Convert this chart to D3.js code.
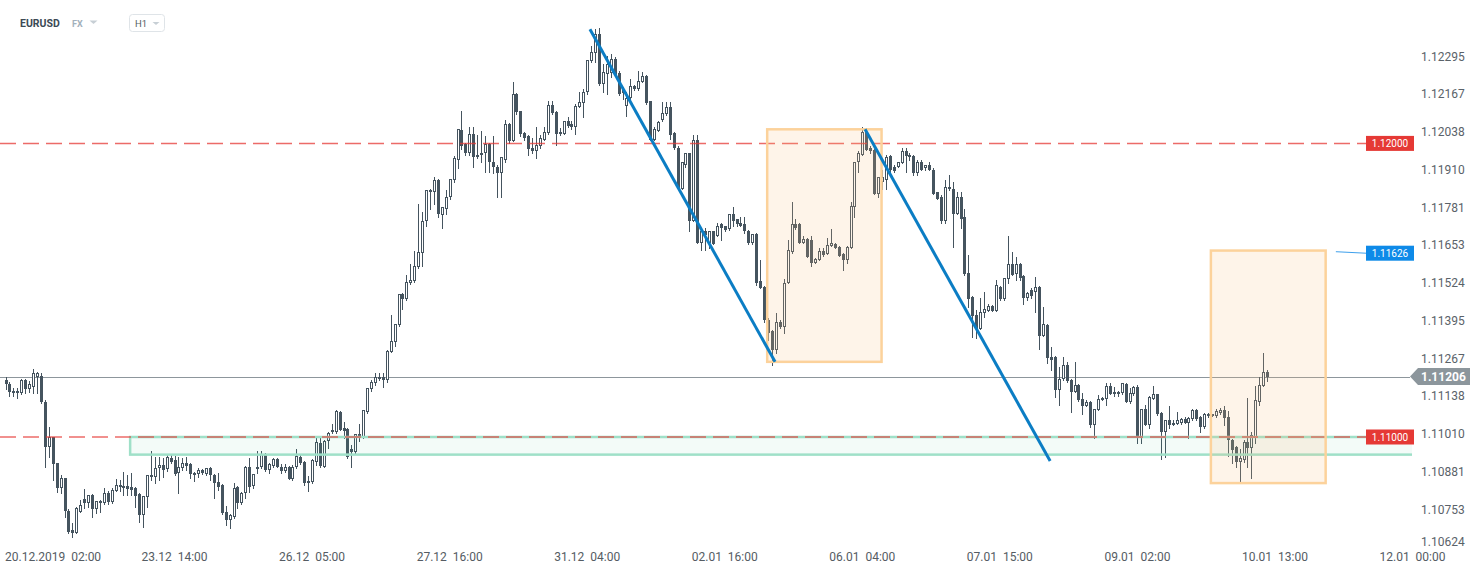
<!DOCTYPE html>
<html lang="en">
<head>
<meta charset="UTF-8">
<title>EURUSD H1</title>
<style>
  body { margin: 0; background: #fff; overflow: hidden; }
  svg { display: block; font-family: Roboto, "Noto Sans", sans-serif; }
  text { white-space: pre; }
</style>
</head>
<body>
<script src="https://d3js.org/d3.v7.min.js"></script>
<script>
const symbol = 'EURUSD';
const market = 'FX';
const interval = 'H1';

// bar index of the first visible candle (0 = 20.12.2019 02:00)
const firstBar = -8;
// [open, high, low, close]
const candles = [
  [1.11195,1.11205,1.11164,1.11181],[1.11181,1.11188,1.11140,1.11153],[1.11157,1.11168,1.11140,1.11150],[1.11150,1.11168,1.11133,1.11157],
  [1.11150,1.11198,1.11146,1.11195],[1.11195,1.11198,1.11150,1.11164],[1.11164,1.11192,1.11153,1.11181],[1.11171,1.11232,1.11150,1.11219],
  [1.11205,1.11222,1.11150,1.11219],[1.11208,1.11219,1.11116,1.11119],[1.11119,1.11126,1.10897,1.10966],[1.10966,1.11034,1.10932,1.11000],
  [1.11000,1.11000,1.10853,1.10907],[1.10911,1.10911,1.10812,1.10826],[1.10826,1.10870,1.10809,1.10860],[1.10860,1.10860,1.10727,1.10748],
  [1.10748,1.10755,1.10673,1.10676],[1.10683,1.10707,1.10659,1.10673],[1.10673,1.10761,1.10673,1.10758],[1.10744,1.10785,1.10744,1.10768],
  [1.10788,1.10822,1.10758,1.10775],[1.10775,1.10802,1.10761,1.10802],[1.10802,1.10805,1.10727,1.10754],[1.10754,1.10782,1.10741,1.10782],
  [1.10782,1.10785,1.10744,1.10775],[1.10775,1.10826,1.10771,1.10809],[1.10809,1.10816,1.10771,1.10778],[1.10778,1.10826,1.10775,1.10819],
  [1.10816,1.10856,1.10816,1.10836],[1.10836,1.10853,1.10816,1.10829],[1.10833,1.10880,1.10802,1.10826],[1.10833,1.10870,1.10802,1.10822],
  [1.10829,1.10877,1.10802,1.10819],[1.10826,1.10829,1.10761,1.10799],[1.10805,1.10809,1.10710,1.10734],[1.10734,1.10799,1.10693,1.10799],
  [1.10795,1.10870,1.10761,1.10870],[1.10870,1.10952,1.10853,1.10863],[1.10863,1.10932,1.10843,1.10894],[1.10894,1.10932,1.10853,1.10904],
  [1.10904,1.10928,1.10863,1.10887],[1.10890,1.10938,1.10884,1.10932],[1.10928,1.10942,1.10911,1.10914],[1.10921,1.10935,1.10870,1.10873],
  [1.10877,1.10932,1.10809,1.10897],[1.10894,1.10928,1.10887,1.10911],[1.10911,1.10932,1.10887,1.10900],[1.10907,1.10911,1.10860,1.10873],
  [1.10877,1.10880,1.10850,1.10870],[1.10873,1.10894,1.10863,1.10887],[1.10887,1.10890,1.10873,1.10877],[1.10873,1.10894,1.10870,1.10894],
  [1.10894,1.10897,1.10853,1.10870],[1.10870,1.10873,1.10792,1.10843],[1.10846,1.10877,1.10819,1.10829],[1.10836,1.10840,1.10737,1.10741],
  [1.10744,1.10765,1.10700,1.10717],[1.10717,1.10737,1.10690,1.10734],[1.10727,1.10843,1.10724,1.10826],[1.10829,1.10832,1.10758,1.10775],
  [1.10775,1.10812,1.10772,1.10809],[1.10809,1.10900,1.10792,1.10897],[1.10897,1.10928,1.10812,1.10829],[1.10833,1.10873,1.10826,1.10873],
  [1.10890,1.10952,1.10877,1.10897],[1.10897,1.10952,1.10894,1.10942],[1.10942,1.10945,1.10884,1.10887],[1.10887,1.10911,1.10877,1.10907],
  [1.10900,1.10928,1.10897,1.10925],[1.10925,1.10928,1.10897,1.10897],[1.10897,1.10907,1.10877,1.10884],[1.10884,1.10907,1.10880,1.10897],
  [1.10897,1.10900,1.10856,1.10856],[1.10856,1.10904,1.10853,1.10897],[1.10897,1.10959,1.10894,1.10935],[1.10932,1.10938,1.10907,1.10911],
  [1.10914,1.10918,1.10836,1.10843],[1.10843,1.10866,1.10816,1.10850],[1.10846,1.10925,1.10843,1.10921],[1.10914,1.10997,1.10904,1.10983],
  [1.10980,1.10997,1.10897,1.10900],[1.10897,1.10990,1.10897,1.10986],[1.10986,1.11017,1.10963,1.11014],[1.11017,1.11044,1.11014,1.11024],
  [1.11017,1.11092,1.11014,1.11089],[1.11085,1.11089,1.11024,1.11024],[1.11031,1.11051,1.10997,1.11020],[1.11027,1.11031,1.10928,1.10932],
  [1.10959,1.10973,1.10897,1.10949],[1.10949,1.11010,1.10945,1.11010],[1.11010,1.11044,1.10986,1.11000],[1.11000,1.11092,1.10997,1.11092],
  [1.11085,1.11168,1.11082,1.11168],[1.11164,1.11195,1.11157,1.11188],[1.11185,1.11219,1.11178,1.11205],[1.11202,1.11219,1.11195,1.11205],
  [1.11205,1.11219,1.11171,1.11195],[1.11195,1.11297,1.11188,1.11294],[1.11290,1.11416,1.11290,1.11328],[1.11324,1.11386,1.11311,1.11386],
  [1.11382,1.11488,1.11379,1.11488],[1.11488,1.11491,1.11437,1.11471],[1.11471,1.11553,1.11468,1.11529],[1.11526,1.11590,1.11522,1.11536],
  [1.11532,1.11635,1.11529,1.11584],[1.11580,1.11792,1.11577,1.11631],[1.11628,1.11765,1.11584,1.11734],[1.11734,1.11840,1.11720,1.11840],
  [1.11833,1.11843,1.11778,1.11840],[1.11836,1.11887,1.11795,1.11877],[1.11877,1.11880,1.11751,1.11761],[1.11755,1.11782,1.11713,1.11782],
  [1.11778,1.11840,1.11758,1.11816],[1.11816,1.11880,1.11809,1.11880],[1.11874,1.11956,1.11870,1.11949],[1.11945,1.12048,1.11915,1.12048],
  [1.12044,1.12109,1.11980,1.11990],[1.11997,1.12003,1.11959,1.11966],[1.11969,1.12055,1.11959,1.12031],[1.12031,1.12055,1.11921,1.11952],
  [1.11952,1.12027,1.11949,1.11962],[1.11959,1.12041,1.11935,1.11969],[1.11969,1.12024,1.11901,1.11997],[1.11997,1.12003,1.11904,1.11938],
  [1.11938,1.12024,1.11898,1.11918],[1.11921,1.11928,1.11816,1.11898],[1.11898,1.11952,1.11816,1.11952],[1.11945,1.12078,1.11938,1.12065],
  [1.12065,1.12068,1.12003,1.12007],[1.12007,1.12208,1.12007,1.12167],[1.12167,1.12171,1.12099,1.12106],[1.12109,1.12112,1.12024,1.12031],
  [1.12034,1.12038,1.12010,1.12020],[1.12024,1.12027,1.11962,1.11980],[1.11986,1.12017,1.11966,1.11973],[1.11973,1.12055,1.11949,1.11993],
  [1.11990,1.12027,1.11986,1.12017],[1.12010,1.12055,1.12010,1.12038],[1.12034,1.12143,1.12031,1.12130],[1.12130,1.12143,1.12099,1.12102],
  [1.12106,1.12109,1.11993,1.12031],[1.12038,1.12051,1.12027,1.12031],[1.12031,1.12075,1.12031,1.12075],[1.12075,1.12089,1.12055,1.12058],
  [1.12065,1.12075,1.12048,1.12055],[1.12055,1.12133,1.12031,1.12126],[1.12123,1.12174,1.12123,1.12140],[1.12137,1.12184,1.12089,1.12174],
  [1.12174,1.12283,1.12167,1.12283],[1.12280,1.12331,1.12276,1.12311],[1.12307,1.12389,1.12276,1.12372],[1.12372,1.12392,1.12198,1.12201],
  [1.12201,1.12270,1.12174,1.12242],[1.12235,1.12297,1.12167,1.12270],[1.12239,1.12304,1.12225,1.12287],[1.12287,1.12294,1.12229,1.12232],
  [1.12239,1.12246,1.12164,1.12167],[1.12171,1.12191,1.12150,1.12181],[1.12126,1.12174,1.12092,1.12154],[1.12154,1.12218,1.12150,1.12195],
  [1.12195,1.12198,1.12181,1.12184],[1.12184,1.12246,1.12181,1.12212],[1.12208,1.12242,1.12208,1.12229],[1.12229,1.12232,1.12133,1.12137],
  [1.12143,1.12143,1.12010,1.12010],[1.12010,1.12055,1.12010,1.12048],[1.12041,1.12075,1.12041,1.12072],[1.12078,1.12140,1.12075,1.12102],
  [1.12099,1.12140,1.12096,1.12123],[1.12123,1.12140,1.12014,1.12027],[1.12034,1.12038,1.11980,1.11983],[1.11986,1.11990,1.11843,1.11846],
  [1.11846,1.11938,1.11843,1.11935],[1.11928,1.11969,1.11921,1.11966],[1.11966,1.11969,1.11700,1.11737],[1.11737,1.12027,1.11734,1.12010],
  [1.12010,1.12027,1.11662,1.11662],[1.11662,1.11713,1.11638,1.11700],[1.11703,1.11713,1.11638,1.11689],[1.11662,1.11703,1.11645,1.11700],
  [1.11700,1.11703,1.11659,1.11659],[1.11686,1.11730,1.11686,1.11720],[1.11724,1.11730,1.11672,1.11713],[1.11717,1.11717,1.11703,1.11706],
  [1.11710,1.11761,1.11706,1.11758],[1.11758,1.11785,1.11717,1.11734],[1.11741,1.11744,1.11717,1.11724],[1.11730,1.11748,1.11717,1.11720],
  [1.11724,1.11748,1.11696,1.11700],[1.11703,1.11706,1.11659,1.11662],[1.11662,1.11693,1.11659,1.11693],[1.11693,1.11696,1.11519,1.11526],
  [1.11532,1.11604,1.11509,1.11509],[1.11512,1.11515,1.11392,1.11399],[1.11399,1.11406,1.11331,1.11355],[1.11362,1.11365,1.11246,1.11297],
  [1.11297,1.11423,1.11287,1.11392],[1.11392,1.11399,1.11372,1.11375],[1.11375,1.11539,1.11355,1.11526],[1.11526,1.11672,1.11526,1.11638],
  [1.11631,1.11799,1.11628,1.11724],[1.11724,1.11741,1.11710,1.11713],[1.11724,1.11730,1.11662,1.11662],[1.11662,1.11683,1.11662,1.11676],
  [1.11676,1.11679,1.11614,1.11614],[1.11672,1.11683,1.11584,1.11594],[1.11594,1.11611,1.11594,1.11607],[1.11604,1.11645,1.11604,1.11635],
  [1.11635,1.11645,1.11618,1.11621],[1.11624,1.11679,1.11624,1.11655],[1.11652,1.11710,1.11652,1.11662],[1.11659,1.11662,1.11645,1.11645],
  [1.11648,1.11652,1.11618,1.11618],[1.11624,1.11628,1.11570,1.11604],[1.11604,1.11652,1.11594,1.11648],[1.11645,1.11799,1.11645,1.11788],
  [1.11782,1.11938,1.11751,1.11938],[1.11935,1.11973,1.11901,1.11966],[1.11962,1.12055,1.11962,1.12038],[1.12038,1.12051,1.11976,1.11976],
  [1.11986,1.11990,1.11969,1.11973],[1.11976,1.11980,1.11826,1.11829],[1.11826,1.11887,1.11819,1.11887],[1.11870,1.11911,1.11843,1.11884],
  [1.11877,1.11962,1.11843,1.11952],[1.11956,1.11959,1.11904,1.11911],[1.11921,1.11928,1.11901,1.11907],[1.11918,1.11938,1.11918,1.11938],
  [1.11932,1.11986,1.11932,1.11973],[1.11973,1.11986,1.11904,1.11956],[1.11962,1.11966,1.11945,1.11952],[1.11956,1.11959,1.11894,1.11898],
  [1.11898,1.11942,1.11894,1.11938],[1.11938,1.11942,1.11908,1.11911],[1.11915,1.11928,1.11911,1.11925],[1.11928,1.11935,1.11908,1.11908],
  [1.11911,1.11915,1.11826,1.11826],[1.11836,1.11836,1.11809,1.11812],[1.11819,1.11823,1.11730,1.11737],[1.11737,1.11877,1.11730,1.11850],
  [1.11850,1.11894,1.11840,1.11843],[1.11846,1.11867,1.11648,1.11758],[1.11758,1.11836,1.11758,1.11819],[1.11819,1.11833,1.11713,1.11744],
  [1.11751,1.11775,1.11553,1.11556],[1.11560,1.11621,1.11444,1.11471],[1.11478,1.11481,1.11341,1.11413],[1.11416,1.11433,1.11338,1.11369],
  [1.11369,1.11474,1.11369,1.11426],[1.11423,1.11495,1.11409,1.11437],[1.11430,1.11454,1.11430,1.11447],[1.11447,1.11451,1.11430,1.11430],
  [1.11430,1.11536,1.11430,1.11519],[1.11512,1.11515,1.11468,1.11471],[1.11471,1.11543,1.11468,1.11543],[1.11539,1.11683,1.11526,1.11590],
  [1.11590,1.11631,1.11553,1.11553],[1.11556,1.11614,1.11536,1.11590],[1.11590,1.11594,1.11536,1.11543],[1.11550,1.11553,1.11454,1.11474],
  [1.11474,1.11495,1.11468,1.11491],[1.11502,1.11509,1.11474,1.11481],[1.11495,1.11546,1.11426,1.11512],[1.11512,1.11515,1.11300,1.11345],
  [1.11345,1.11444,1.11345,1.11386],[1.11382,1.11386,1.11253,1.11270],[1.11273,1.11307,1.11229,1.11263],[1.11273,1.11276,1.11136,1.11160],
  [1.11160,1.11239,1.11109,1.11198],[1.11198,1.11273,1.11195,1.11246],[1.11246,1.11256,1.11188,1.11192],[1.11195,1.11198,1.11085,1.11153],
  [1.11153,1.11256,1.11153,1.11178],[1.11178,1.11181,1.11123,1.11126],[1.11130,1.11150,1.11078,1.11106],[1.11106,1.11126,1.11106,1.11119],
  [1.11119,1.11123,1.11034,1.11041],[1.11041,1.11095,1.10997,1.11095],[1.11092,1.11143,1.11092,1.11130],[1.11126,1.11136,1.11126,1.11133],
  [1.11130,1.11185,1.11109,1.11174],[1.11174,1.11185,1.11146,1.11146],[1.11146,1.11171,1.11140,1.11153],[1.11146,1.11157,1.11140,1.11153],
  [1.11150,1.11185,1.11146,1.11185],[1.11181,1.11185,1.11119,1.11119],[1.11119,1.11168,1.11116,1.11150],[1.11146,1.11174,1.11143,1.11171],
  [1.11171,1.11178,1.10980,1.10997],[1.10997,1.11095,1.10980,1.11095],[1.11095,1.11109,1.11041,1.11041],[1.11041,1.11140,1.11031,1.11136],
  [1.11130,1.11174,1.11130,1.11146],[1.11146,1.11146,1.11075,1.11078],[1.11082,1.11085,1.10925,1.11017],[1.11017,1.11058,1.10932,1.11058],
  [1.11058,1.11106,1.11031,1.11041],[1.11041,1.11058,1.11041,1.11048],[1.11044,1.11085,1.11044,1.11058],[1.11048,1.11065,1.11044,1.11061],
  [1.11061,1.11068,1.11048,1.11048],[1.11048,1.11068,1.10997,1.11065],[1.11061,1.11095,1.11058,1.11092],[1.11092,1.11095,1.11058,1.11061],
  [1.11068,1.11072,1.11017,1.11034],[1.11034,1.11082,1.11031,1.11078],[1.11078,1.11082,1.11068,1.11072],[1.11075,1.11078,1.11072,1.11078],
  [1.11072,1.11095,1.11068,1.11089],[1.11082,1.11099,1.11078,1.11092],[1.11092,1.11106,1.11041,1.11065],[1.11068,1.11089,1.10935,1.10990],
  [1.10990,1.10993,1.10911,1.10956],[1.10966,1.10969,1.10897,1.10914],[1.10914,1.10959,1.10846,1.10928],[1.10921,1.10990,1.10914,1.10983],
  [1.10983,1.11133,1.10897,1.10963],[1.10963,1.11017,1.10860,1.11007],[1.11000,1.11174,1.10980,1.11126],[1.11119,1.11205,1.11109,1.11178],
  [1.11174,1.11287,1.11174,1.11222],[1.11222,1.11229,1.11192,1.11206]
];

const timeTicks = [0, 35, 70, 105, 140, 175, 210, 245, 280, 315, 350];
const timeLabels = ['20.12.2019  02:00', '23.12  14:00', '26.12  05:00', '27.12  16:00', '31.12  04:00',
  '02.01  16:00', '06.01  04:00', '07.01  15:00', '09.01  02:00', '10.01  13:00', '12.01  00:00'];
const priceTicks = [1.12295, 1.12167, 1.12038, 1.11910, 1.11781, 1.11653, 1.11524,
  1.11395, 1.11267, 1.11138, 1.11010, 1.10881, 1.10753, 1.10624];

const levels = [1.12000, 1.11000];
const lastPrice = 1.11206;
const alertPrice = 1.11626;
const alertFromBar = 330.5;
// [bar start, bar end, price top, price bottom]
const supportZone = [23.7, 350, 1.11000, 1.10940];
const boxes = [
  [185.8, 214.9, 1.12048, 1.11256],
  [298.7, 327.9, 1.11635, 1.10843]
];
// [bar, price, bar, price]
const trendLines = [
  [140.7, 1.12389, 187.8, 1.11256],
  [210.7, 1.12048, 257.8, 1.10918]
];

const width = 1482, height = 574;
const plotRight = 1412;
const tagLeft = 1366, tagWidth = 48;
const candleColor = '#45545f';

const x = d3.scaleLinear().domain([0, 350]).range([37, 1412.5]);
const y = d3.scaleLinear().domain([1.11, 1.12]).range([437, 143.4]);

const svg = d3.select('body').append('svg')
  .attr('width', width)
  .attr('height', height);

svg.append('clipPath').attr('id', 'plot')
  .append('rect').attr('x', 0).attr('y', 0).attr('width', plotRight).attr('height', 545);

const plot = svg.append('g').attr('clip-path', 'url(#plot)');

// last price line (under candles)
plot.append('line')
  .attr('x1', 0).attr('x2', 1410)
  .attr('y1', Math.round(y(lastPrice)) + 0.5).attr('y2', Math.round(y(lastPrice)) + 0.5)
  .attr('stroke', '#8d969c').attr('stroke-width', 1);

// candles
const bars = plot.append('g').attr('shape-rendering', 'crispEdges');
candles.forEach((d, i) => {
  const [o, h, l, c] = d;
  const cx = Math.round(x(firstBar + i));
  const hi = Math.round(y(d3.max(d)));
  const lo = Math.round(y(d3.min(d)));
  let top = Math.round(y(Math.max(o, c)));
  let bot = Math.round(y(Math.min(o, c)));
  bars.append('line')
    .attr('x1', cx + 0.5).attr('x2', cx + 0.5)
    .attr('y1', hi).attr('y2', lo + 1)
    .attr('stroke', candleColor).attr('stroke-width', 1);
  if (bot - top < 2) bot = top + 2;
  if (c >= o) {
    bars.append('rect')
      .attr('x', cx - 0.5).attr('y', top + 0.5)
      .attr('width', 2).attr('height', bot - top - 1)
      .attr('fill', '#fff').attr('stroke', candleColor).attr('stroke-width', 1);
  } else {
    bars.append('rect')
      .attr('x', cx - 1).attr('y', top)
      .attr('width', 3).attr('height', bot - top)
      .attr('fill', candleColor);
  }
});

// support zone
plot.append('rect')
  .attr('x', x(supportZone[0])).attr('y', y(supportZone[2]))
  .attr('width', x(supportZone[1]) - x(supportZone[0]) + 2)
  .attr('height', y(supportZone[3]) - y(supportZone[2]))
  .attr('fill', '#2bbf8a').attr('fill-opacity', 0.06)
  .attr('stroke', '#9fe0c8').attr('stroke-width', 2.5);

// horizontal levels
levels.forEach(v => {
  plot.append('line')
    .attr('x1', 0).attr('x2', tagLeft)
    .attr('y1', y(v)).attr('y2', y(v))
    .attr('stroke', '#e53935').attr('stroke-opacity', 0.75)
    .attr('stroke-width', 1.5).attr('stroke-dasharray', '16 7');
});

// boxes
boxes.forEach(b => {
  plot.append('rect')
    .attr('x', x(b[0])).attr('y', y(b[2]))
    .attr('width', x(b[1]) - x(b[0]))
    .attr('height', y(b[3]) - y(b[2]))
    .attr('fill', '#fbbf7a').attr('fill-opacity', 0.17)
    .attr('stroke', '#fcd29b').attr('stroke-width', 2.5);
});

// trend lines
trendLines.forEach(t => {
  plot.append('line')
    .attr('x1', x(t[0])).attr('y1', y(t[1]))
    .attr('x2', x(t[2])).attr('y2', y(t[3]))
    .attr('stroke', '#0b7dc4').attr('stroke-width', 3);
});

// alert line to its tag
svg.append('line')
  .attr('x1', x(alertFromBar)).attr('y1', y(alertPrice) - 1.5)
  .attr('x2', tagLeft).attr('y2', y(alertPrice))
  .attr('stroke', '#3ea0ec').attr('stroke-width', 1);

// price tags
function tag(v, color) {
  const yy = y(v);
  svg.append('rect')
    .attr('x', tagLeft).attr('y', yy - 7.5)
    .attr('width', tagWidth).attr('height', 15)
    .attr('fill', color);
  svg.append('text')
    .attr('x', tagLeft + tagWidth / 2).attr('y', yy)
    .attr('text-anchor', 'middle').attr('dominant-baseline', 'central')
    .attr('font-size', 10).attr('fill', '#fff')
    .text(v.toFixed(5));
}
levels.forEach(v => tag(v, '#e53935'));
tag(alertPrice, '#0e8ae8');

// right price axis
svg.append('g').selectAll('text')
  .data(priceTicks)
  .join('text')
  .attr('x', 1421)
  .attr('y', d => Math.min(y(d), 542))
  .attr('dominant-baseline', 'central')
  .attr('font-size', 12)
  .attr('fill', '#5a6269')
  .text(d => d.toFixed(5));

// last price marker
const ly = y(lastPrice);
svg.append('path')
  .attr('d', d3.line()([[1410, ly], [1418, ly - 8.5], [1470, ly - 8.5], [1470, ly + 8.5], [1418, ly + 8.5]]) + 'Z')
  .attr('fill', '#8c969c');
svg.append('text')
  .attr('x', 1421).attr('y', ly)
  .attr('dominant-baseline', 'central')
  .attr('font-size', 12).attr('font-weight', 'bold').attr('fill', '#fff')
  .text(lastPrice.toFixed(5));

// time axis
svg.append('g').selectAll('text')
  .data(timeTicks)
  .join('text')
  .attr('y', 557)
  .attr('dominant-baseline', 'central')
  .attr('font-size', 12)
  .attr('fill', '#555c63')
  .text((d, i) => timeLabels[i])
  .each(function (d) {
    const w = this.getComputedTextLength();
    const cx = x(d);
    const el = d3.select(this);
    if (cx - w / 2 < 5) el.attr('x', 5).attr('text-anchor', 'start');
    else el.attr('x', cx).attr('text-anchor', 'middle');
  });

// header
const head = svg.append('g');
head.append('text')
  .attr('x', 20).attr('y', 27)
  .attr('font-size', 10.5).attr('font-weight', 'bold').attr('fill', '#3c4a55')
  .text(symbol);
head.append('text')
  .attr('x', 72).attr('y', 27)
  .attr('font-size', 9).attr('font-weight', 'bold').attr('fill', '#a3b1bc')
  .text(market);
head.append('path')
  .attr('d', 'M89.5,20.5 L97.5,20.5 L93.5,24 Z').attr('fill', '#c7cfd5');
head.append('rect')
  .attr('x', 129.5).attr('y', 14.5).attr('width', 35).attr('height', 17).attr('rx', 3)
  .attr('fill', '#fff').attr('stroke', '#dfe4e8');
head.append('text')
  .attr('x', 135).attr('y', 27)
  .attr('font-size', 9.5).attr('fill', '#555c63')
  .text(interval);
head.append('path')
  .attr('d', 'M152.5,22 L159.5,22 L156,25 Z').attr('fill', '#c7cfd5');
</script>
</body>
</html>
